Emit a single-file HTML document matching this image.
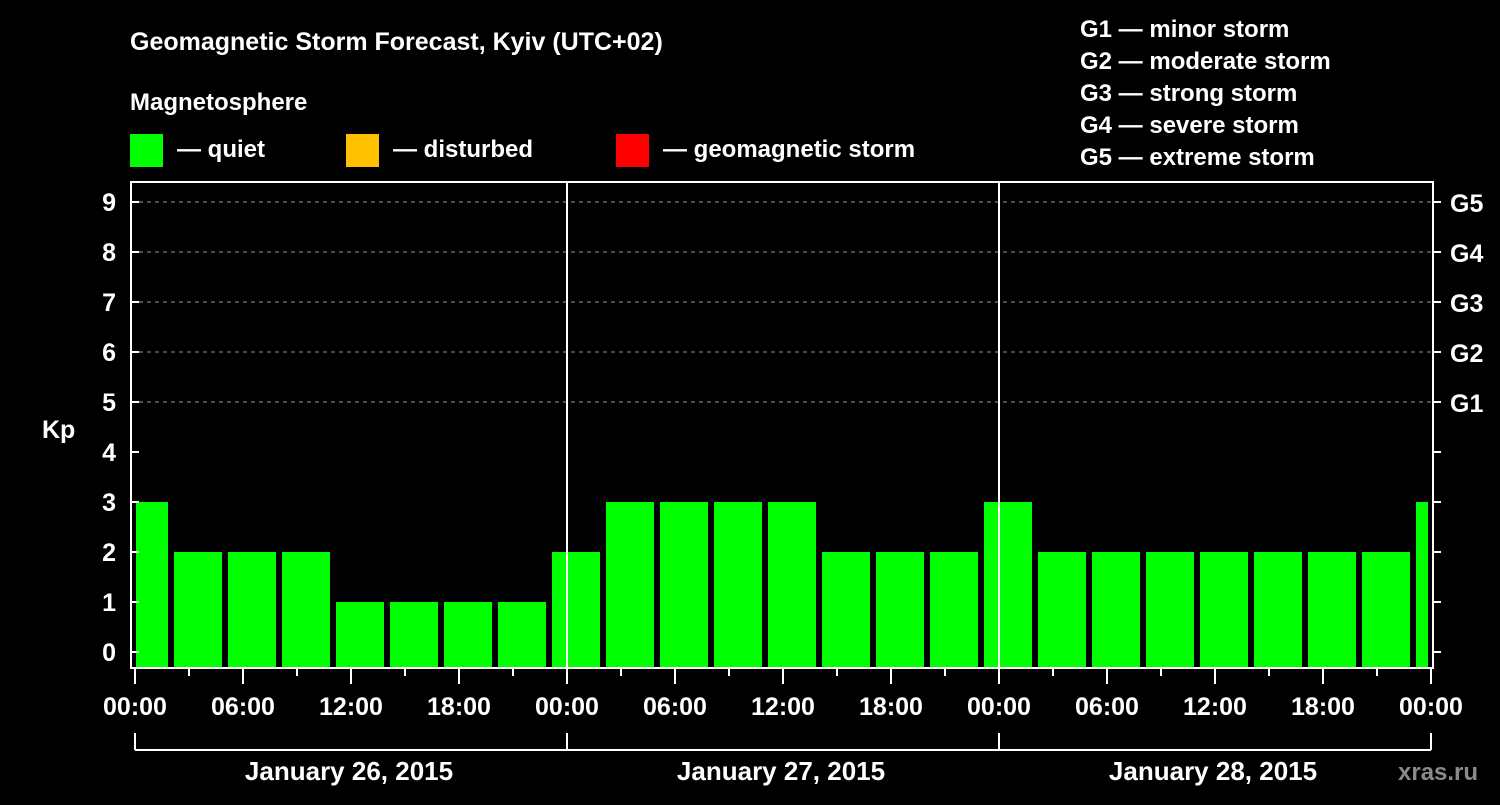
<!DOCTYPE html>
<html><head><meta charset="utf-8"><style>
body{margin:0;background:#000;width:1500px;height:800px;overflow:hidden}
svg text{font-family:"Liberation Sans",Arial,sans-serif;font-weight:bold;fill:#fff}
</style></head><body>
<svg id="c" width="1500" height="800">
<text x="130" y="50" font-size="25">Geomagnetic Storm Forecast, Kyiv (UTC+02)</text>
<text x="130" y="110" font-size="24">Magnetosphere</text>
<g><rect x="130" y="134" width="33" height="33" fill="#00ff00"/><text x="177" y="157" font-size="24">— quiet</text></g>
<g><rect x="346" y="134" width="33" height="33" fill="#ffc000"/><text x="393" y="157" font-size="24">— disturbed</text></g>
<g><rect x="616" y="134" width="33" height="33" fill="#ff0000"/><text x="663" y="157" font-size="24">— geomagnetic storm</text></g>
<g font-size="24">
<text x="1080" y="37">G1 — minor storm</text><text x="1080" y="69">G2 — moderate storm</text><text x="1080" y="101">G3 — strong storm</text><text x="1080" y="133">G4 — severe storm</text><text x="1080" y="165">G5 — extreme storm</text></g>
<text x="42" y="438" font-size="25">Kp</text>
<text x="1398" y="780" font-size="24" fill="#888" style="fill:#8a8a8a">xras.ru</text>
<g id="g"></g>
</svg>
<script>
const kpValues=[3,2,2,2,1,1,1,1,2,3,3,3,3,2,2,2,3,2,2,2,2,2,2,2,3];
const hourLabels=["00:00","06:00","12:00","18:00"];
const dayLabels=["January 26, 2015","January 27, 2015","January 28, 2015"];
const gLabels=["G1","G2","G3","G4","G5"];
const NS="http://www.w3.org/2000/svg";
const g=document.getElementById('g');
const L=131,R=1433,T=182,B=668,X0=135,DAY=432;
const y=k=>652-50*k;
const xh=h=>X0+h*DAY/24;
function el(t,a){const e=document.createElementNS(NS,t);for(const k in a)e.setAttribute(k,a[k]);g.appendChild(e);return e;}
// grid
for(let k=5;k<=9;k++){const e=el('line',{x1:L,x2:R,y1:y(k),y2:y(k),stroke:'#999','stroke-dasharray':'4,4','stroke-width':1});

}
// bars
kpValues.forEach((v,i)=>{let x1=xh(i*3)-15,x2=x1+48;x1=Math.max(x1,L+5);x2=Math.min(x2,R-5);
const e=el('rect',{x:x1,y:y(v),width:x2-x1,height:B-1-y(v),fill:'#00ff00'});

});
// day separators
for(let d=1;d<3;d++){const e=el('line',{x1:X0+d*DAY,x2:X0+d*DAY,y1:T,y2:B,stroke:'#fff','stroke-width':2});

}
// frame
const f=el('rect',{x:L,y:T,width:R-L,height:B-T,fill:'none',stroke:'#fff','stroke-width':2});


// y ticks
for(let k=0;k<=9;k++){
el('line',{x1:L,x2:L+8,y1:y(k),y2:y(k),stroke:'#fff','stroke-width':2});
el('line',{x1:R,x2:R+8,y1:y(k),y2:y(k),stroke:'#fff','stroke-width':2});
const t=el('text',{x:116,y:y(k)+9,'font-size':25,'text-anchor':'end'});t.textContent=k;

}
gLabels.forEach((s,i)=>{const t=el('text',{x:1450,y:y(5+i)+10,'font-size':25});t.textContent=s;

});
// x ticks
for(let h=0;h<=72;h+=3){const maj=h%6==0;el('line',{x1:xh(h),x2:xh(h),y1:B,y2:B+(maj?16:8),stroke:'#fff','stroke-width':2});
if(maj){const t=el('text',{x:xh(h),y:715,'font-size':25,'text-anchor':'middle'});t.textContent=hourLabels[(h/6)%4];

}}
// day brackets
el('line',{x1:X0,x2:X0+3*DAY,y1:750,y2:750,stroke:'#fff','stroke-width':2});
for(let d=0;d<=3;d++)el('line',{x1:X0+d*DAY,x2:X0+d*DAY,y1:733,y2:750,stroke:'#fff','stroke-width':2});
dayLabels.forEach((s,d)=>{const t=el('text',{x:X0+d*DAY+DAY/2-2,y:780,'font-size':26,'text-anchor':'middle'});t.textContent=s;

});
</script>
</body></html>
